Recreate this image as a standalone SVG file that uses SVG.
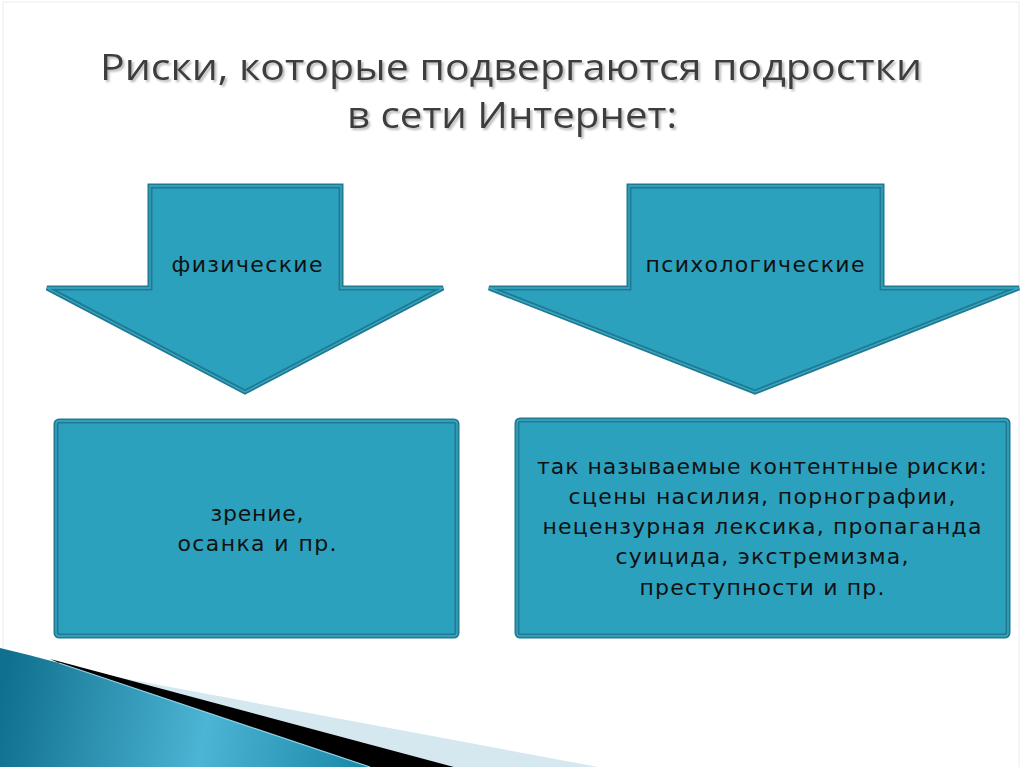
<svg xmlns="http://www.w3.org/2000/svg" width="1024" height="767" viewBox="0 0 1024 767">
  <defs>
    <style>
      .shape { fill: #2ca1be; stroke: #1f7a92; stroke-width: 5; stroke-linejoin: miter; }
      .inner { fill: none; stroke: #3aaac6; stroke-width: 1.3; stroke-linejoin: miter; }
      .lbl { font-family: "DejaVu Sans", Verdana, sans-serif; font-size: 22px; fill: #111; text-anchor: middle; }
      .title { font-family: "Open Sans", "Liberation Sans", sans-serif; font-size: 36px; text-anchor: middle; fill: #3d3d3d; }
    </style>
    <filter id="shadow" x="-5%" y="-30%" width="110%" height="160%">
      <feDropShadow dx="2" dy="2" stdDeviation="1.2" flood-color="#9a9a9a" flood-opacity="0.7"/>
    </filter>
    <linearGradient id="wedge" gradientUnits="userSpaceOnUse" x1="0" y1="700" x2="370" y2="767">
      <stop offset="0" stop-color="#10708d"/>
      <stop offset="0.55" stop-color="#4cb4d4"/>
      <stop offset="1" stop-color="#1a86a6"/>
    </linearGradient>
  </defs>

  <rect x="0" y="0" width="1024" height="767" fill="#ffffff"/>
  <rect x="3" y="2" width="1016" height="780" fill="none" stroke="#ececec" stroke-width="1"/>

  <g id="title" filter="url(#shadow)">
    <text class="title" x="511" y="80" textLength="822" lengthAdjust="spacingAndGlyphs">Риски, которые подвергаются подростки</text>
    <text class="title" x="512" y="128" textLength="330" lengthAdjust="spacingAndGlyphs">в сети Интернет:</text>
  </g>

  <g id="arrow-physical">
    <polygon class="shape" points="150,186 341,186 341,288 443,288 245,392 47,288 150,288"/>
    <polygon class="inner" points="150,186 341,186 341,288 443,288 245,392 47,288 150,288"/>
    <text class="lbl" x="247" y="272" textLength="151" lengthAdjust="spacing">физические</text>
  </g>

  <g id="arrow-psych">
    <polygon class="shape" points="629,186 882,186 882,288 1019,288 755,392 489,288 629,288"/>
    <polygon class="inner" points="629,186 882,186 882,288 1019,288 755,392 489,288 629,288"/>
    <text class="lbl" x="755" y="272" textLength="219" lengthAdjust="spacing">психологические</text>
  </g>

  <g id="box-physical">
    <rect class="shape" x="56" y="421" width="401" height="215" rx="3"/>
    <rect class="inner" x="56" y="421" width="401" height="215" rx="3"/>
    <text class="lbl" x="257" y="521" textLength="93" lengthAdjust="spacing">зрение,</text>
    <text class="lbl" x="257" y="551" textLength="159" lengthAdjust="spacing">осанка и пр.</text>
  </g>

  <g id="box-psych">
    <rect class="shape" x="517" y="420" width="491" height="216" rx="3"/>
    <rect class="inner" x="517" y="420" width="491" height="216" rx="3"/>
    <text class="lbl" x="762" y="474" textLength="450" lengthAdjust="spacing">так называемые контентные риски:</text>
    <text class="lbl" x="762" y="504" textLength="387" lengthAdjust="spacing">сцены насилия, порнографии,</text>
    <text class="lbl" x="762" y="534" textLength="439" lengthAdjust="spacing">нецензурная лексика, пропаганда</text>
    <text class="lbl" x="762" y="564" textLength="293" lengthAdjust="spacing">суицида, экстремизма,</text>
    <text class="lbl" x="762" y="595" textLength="245" lengthAdjust="spacing">преступности и пр.</text>
  </g>

  <g id="connectors"></g>

  <g id="decoration">
    <polygon points="111,676 598,767 454,767" fill="#d5e8f0"/>
    <polygon points="50,659 454,767 370,767 59,663" fill="#000000"/>
    <path d="M0,648 Q30,655 59,663 L370,767 L0,767 Z" fill="url(#wedge)"/>
    <path d="M59,663 L370,767" stroke="#8fd0e6" stroke-width="1.2" fill="none"/>
  </g>
</svg>
